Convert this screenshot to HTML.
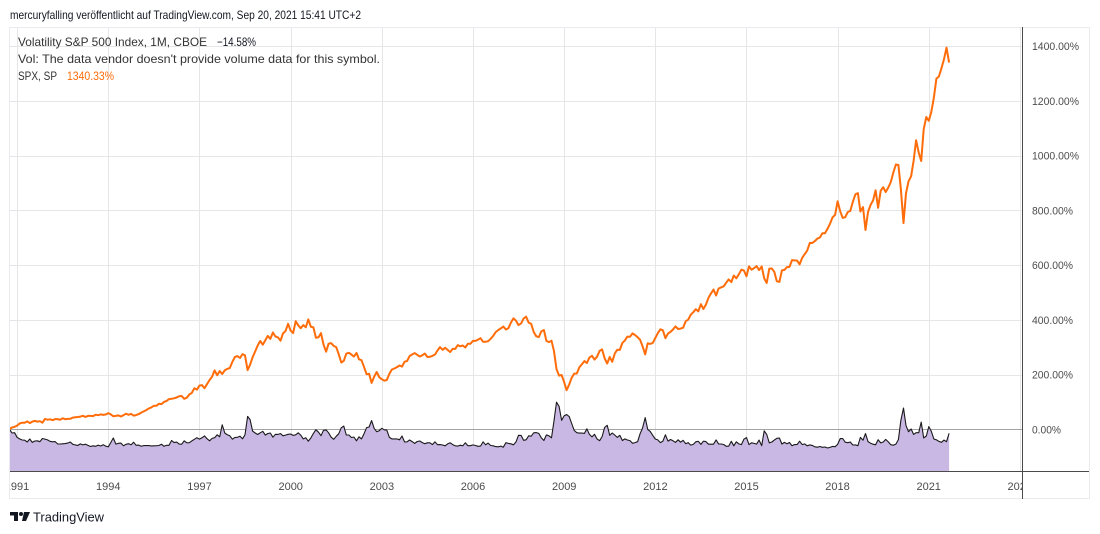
<!DOCTYPE html>
<html><head><meta charset="utf-8"><style>
html,body{margin:0;padding:0;background:#fff;}
body{width:1100px;height:534px;overflow:hidden;}
svg{display:block;}
text{font-family:"Liberation Sans",sans-serif;}
</style></head><body>
<svg id="c" width="1100" height="534" viewBox="0 0 1100 534" xmlns="http://www.w3.org/2000/svg">
<defs><clipPath id="pane"><rect x="10" y="28" width="1012" height="443"/></clipPath>
<clipPath id="taxis"><rect x="10" y="472" width="1012" height="26"/></clipPath></defs>
<text x="10" y="19" font-size="12" fill="#131722" textLength="351" lengthAdjust="spacingAndGlyphs">mercuryfalling veröffentlicht auf TradingView.com, Sep 20, 2021 15:41 UTC+2</text>
<rect x="9.5" y="27.5" width="1080" height="471" fill="none" stroke="#e9ebee" stroke-width="1"/>
<g id="grid" stroke="#e6e6e9" stroke-width="1"></g>
<line x1="10" y1="429.5" x2="1022" y2="429.5" stroke="#a3a3a3" stroke-width="1"/>
<g clip-path="url(#pane)">
<path id="vixfill" fill="#c9b8e3" stroke="none"/>
<path id="vixline" fill="none" stroke="#1a1a1a" stroke-width="1.1" stroke-linejoin="round"/>
<path id="spx" fill="none" stroke="#ff6d0a" stroke-width="2" stroke-linejoin="round"/>
</g>
<line x1="1022.5" y1="27" x2="1022.5" y2="499" stroke="#4a4a4a" stroke-width="1"/>
<line x1="10" y1="471.5" x2="1089" y2="471.5" stroke="#4a4a4a" stroke-width="1"/>
<g font-size="11" fill="#4c4c4c">
<text x="1032" y="50" textLength="47" lengthAdjust="spacingAndGlyphs">1400.00%</text>
<text x="1032" y="105" textLength="47" lengthAdjust="spacingAndGlyphs">1200.00%</text>
<text x="1032" y="159.5" textLength="47" lengthAdjust="spacingAndGlyphs">1000.00%</text>
<text x="1032" y="214.5" textLength="41" lengthAdjust="spacingAndGlyphs">800.00%</text>
<text x="1032" y="269" textLength="41" lengthAdjust="spacingAndGlyphs">600.00%</text>
<text x="1032" y="324" textLength="41" lengthAdjust="spacingAndGlyphs">400.00%</text>
<text x="1032" y="378.5" textLength="41" lengthAdjust="spacingAndGlyphs">200.00%</text>
<text x="1032" y="433.5" textLength="29" lengthAdjust="spacingAndGlyphs">0.00%</text>
</g>
<g font-size="11" fill="#4c4c4c" text-anchor="middle" clip-path="url(#taxis)">
<text x="17" y="490">1991</text><text x="108.3" y="490">1994</text><text x="199.5" y="490">1997</text>
<text x="290.7" y="490">2000</text><text x="381.9" y="490">2003</text><text x="473" y="490">2006</text>
<text x="564.2" y="490">2009</text><text x="655.4" y="490">2012</text><text x="746.5" y="490">2015</text>
<text x="837.5" y="490">2018</text><text x="928.7" y="490">2021</text><text x="1019.8" y="490">2024</text>
</g>
<g font-size="12" fill="#333">
<text x="18" y="46" textLength="189" lengthAdjust="spacingAndGlyphs">Volatility S&amp;P 500 Index, 1M, CBOE</text>
<text x="217" y="46" fill="#131722" textLength="39" lengthAdjust="spacingAndGlyphs">−14.58%</text>
<text x="18" y="63" textLength="362" lengthAdjust="spacingAndGlyphs">Vol: The data vendor doesn't provide volume data for this symbol.</text>
<text x="18" y="80" textLength="39" lengthAdjust="spacingAndGlyphs">SPX, SP</text>
<text x="67" y="80" fill="#ff6d0a" textLength="47" lengthAdjust="spacingAndGlyphs">1340.33%</text>
</g>
<g fill="#131722">
<rect x="10" y="512" width="8" height="3.5"/>
<rect x="14" y="512" width="4" height="9"/>
<circle cx="21" cy="514" r="2"/>
<polygon points="24,512 30,512 26,521 22,521"/>
</g>
<text x="33" y="521.5" font-size="13" fill="#131722" textLength="71" lengthAdjust="spacingAndGlyphs">TradingView</text>
</svg>
<script>
(function(){
var NS="http://www.w3.org/2000/svg";
var g=document.getElementById('grid');
function ln(x1,y1,x2,y2){var l=document.createElementNS(NS,'line');l.setAttribute('x1',x1);l.setAttribute('y1',y1);l.setAttribute('x2',x2);l.setAttribute('y2',y2);g.appendChild(l);}
for(var k=0;k<12;k++){var x=Math.round(17.1+k*91.17)+0.5;ln(x,28,x,471);}
for(var k=1;k<=7;k++){var y=Math.round(429.3-k*54.714)+0.5;ln(10,y,1022,y);}
var spx=[304.0,322.2,330.2,
343.9,367.1,375.2,375.3,389.8,371.2,387.8,395.4,387.9,392.5,375.2,417.1,
408.8,412.7,403.7,414.9,415.4,408.1,424.2,414.0,417.8,418.7,431.4,435.7,
438.8,443.4,451.7,440.2,450.2,451.0,448.1,463.6,458.9,467.8,461.8,466.5,
481.6,467.1,445.8,450.9,456.5,444.3,458.3,475.5,462.7,472.4,454.0,459.3,
470.4,487.4,500.7,514.7,533.4,544.8,562.1,561.9,584.4,581.5,605.4,615.9,
636.0,640.4,645.5,654.2,669.1,670.6,639.9,651.9,687.3,705.3,757.0,740.7,
786.2,791.0,757.1,801.3,848.3,885.1,954.3,899.5,947.3,914.6,955.4,970.4,
980.3,1049.3,1101.8,1111.8,1090.8,1133.8,1120.7,957.3,1017.0,1098.7,1163.6,1229.2,
1279.6,1238.3,1286.4,1335.2,1301.8,1372.7,1328.7,1320.4,1282.7,1362.9,1388.9,1469.3,
1394.5,1366.4,1498.6,1452.4,1420.6,1454.6,1430.8,1517.7,1436.5,1429.4,1315.2,1320.3,
1366.0,1239.9,1160.3,1249.5,1255.8,1224.4,1211.2,1133.6,1040.9,1059.8,1139.5,1148.1,
1130.2,1106.7,1147.4,1076.9,1067.1,989.8,911.6,916.1,815.3,885.8,936.3,879.8,
855.7,841.2,848.2,916.9,963.6,974.5,990.3,1008.0,996.0,1050.7,1058.2,1111.9,
1131.1,1144.9,1126.2,1107.3,1120.7,1140.8,1101.7,1104.2,1114.6,1130.2,1173.8,1211.9,
1181.3,1203.6,1180.6,1156.9,1191.5,1191.3,1234.2,1220.3,1228.8,1207.0,1249.5,1248.3,
1280.1,1280.7,1294.9,1310.6,1270.1,1270.2,1276.7,1303.8,1335.9,1377.9,1400.6,1418.3,
1438.2,1406.8,1420.9,1482.4,1530.6,1503.4,1455.3,1474.0,1526.8,1549.4,1481.1,1468.4,
1378.6,1330.6,1322.7,1385.6,1400.4,1280.0,1267.4,1282.8,1166.4,968.8,896.2,903.3,
825.9,735.1,797.9,872.8,919.1,919.3,987.5,1020.6,1057.1,1036.2,1095.6,1115.1,
1073.9,1104.5,1169.4,1186.7,1089.4,1030.7,1101.6,1049.3,1141.2,1183.3,1180.6,1257.6,
1286.1,1327.2,1325.8,1363.6,1345.2,1320.6,1292.3,1218.9,1131.4,1253.3,1247.0,1257.6,
1312.4,1365.7,1408.5,1397.9,1310.3,1362.2,1379.3,1406.6,1440.7,1412.2,1416.2,1426.2,
1498.1,1514.7,1569.2,1597.6,1630.7,1606.3,1685.7,1633.0,1681.6,1756.5,1805.8,1848.4,
1782.6,1859.5,1872.3,1883.9,1923.6,1960.2,1930.7,2003.4,1972.3,2018.1,2067.6,2058.9,
1995.0,2104.5,2067.9,2085.5,2107.4,2063.1,2103.8,1972.2,1920.0,2079.4,2080.4,2043.9,
1940.2,1932.2,2059.7,2065.3,2096.9,2098.9,2173.6,2170.9,2168.3,2126.2,2198.8,2238.8,
2278.9,2363.6,2362.7,2384.2,2411.8,2423.4,2470.3,2471.7,2519.4,2575.3,2647.6,2673.6,
2823.8,2713.8,2640.9,2648.1,2705.3,2718.4,2816.3,2901.5,2914.0,2711.7,2760.2,2506.9,
2704.1,2784.5,2834.4,2945.8,2752.1,2941.8,2980.4,2926.5,2976.7,3037.6,3141.0,3230.8,
3225.5,2954.2,2584.6,2912.4,3044.3,3100.3,3271.1,3500.3,3363.0,3270.0,3621.6,3756.1,
3714.2,3811.2,3972.9,4181.2,4204.1,4297.5,4395.3,4522.7,4357.7];
var vix=[30.1,26.0,26.4,
21.3,19.5,18.3,18.1,16.1,19.4,15.7,17.2,17.5,16.5,20.0,19.3,
18.4,16.9,16.4,16.6,14.0,13.9,14.2,14.4,14.9,16.1,13.6,12.9,
12.4,14.0,12.9,13.7,12.4,11.2,12.0,11.4,12.6,11.7,13.2,11.6,
10.8,15.6,20.5,13.8,14.7,14.9,12.0,13.6,14.3,13.0,15.9,12.5,
12.7,11.5,12.2,12.3,12.2,11.8,11.9,12.1,12.3,13.7,11.4,12.5,
12.5,17.8,15.5,16.0,13.8,13.7,17.5,15.3,15.4,17.3,19.1,20.9,
19.3,20.7,22.8,19.8,17.4,20.1,20.9,24.1,21.8,35.1,26.0,24.0,
23.0,19.2,21.2,21.3,22.5,19.7,24.1,44.3,40.8,28.1,26.0,24.4,
26.3,27.9,23.7,25.5,26.0,21.4,24.6,24.5,25.4,23.0,23.7,24.6,
24.9,23.4,24.1,26.2,23.7,19.5,20.7,17.0,20.6,25.6,29.7,26.9,
23.1,29.0,29.4,26.3,21.5,19.1,22.4,25.1,31.9,33.6,23.8,23.8,
21.1,21.6,17.4,21.9,19.5,25.4,32.0,32.6,39.7,31.1,27.5,28.6,
31.2,29.6,29.2,21.2,19.5,19.5,19.5,18.6,22.7,16.1,16.3,18.3,
16.6,14.6,16.7,17.2,15.5,14.3,15.3,15.3,13.3,16.3,13.2,13.3,
12.8,12.0,14.0,15.3,13.3,12.0,11.6,12.6,11.9,15.3,12.1,12.1,
12.95,12.3,11.4,11.6,16.4,13.1,14.95,12.3,11.98,11.1,10.9,11.6,
10.4,15.4,14.6,14.2,13.1,16.2,23.5,23.4,18.0,18.5,22.9,22.5,
26.2,26.5,25.6,20.8,17.8,23.95,22.9,20.7,39.4,59.9,55.3,40.0,
44.8,46.4,44.1,36.5,28.9,26.4,25.9,26.0,25.6,30.7,24.5,21.7,
24.6,19.5,17.6,22.05,32.1,34.5,23.5,26.05,23.7,21.2,23.5,17.75,
19.5,18.35,17.7,14.75,15.45,16.5,25.25,31.6,42.96,29.96,27.8,23.4,
19.4,18.4,15.5,17.15,24.1,17.1,18.9,17.5,15.7,18.6,15.9,18.0,
14.3,15.5,12.7,13.5,16.3,16.9,13.45,17.0,16.6,13.75,13.7,13.7,
18.4,14.0,13.9,13.4,11.4,11.6,16.95,12.0,16.3,14.0,13.3,19.2,
20.97,13.3,15.3,14.55,13.8,18.2,12.1,28.4,24.5,15.1,16.1,18.2,
20.2,20.55,13.95,15.7,14.2,15.6,11.9,13.4,13.3,17.06,13.3,14.0,
11.99,12.9,12.4,10.8,10.4,11.2,10.3,10.6,9.5,10.2,11.3,11.0,
13.5,19.85,19.97,15.9,15.4,16.1,12.8,12.9,12.1,21.2,18.1,25.4,
16.6,14.8,13.7,13.1,18.7,15.1,16.1,19.0,16.2,13.2,12.6,13.8,
18.8,40.1,53.5,34.2,27.5,30.4,24.5,26.4,26.4,38.0,20.6,22.75,
33.1,27.95,19.4,18.6,16.8,15.8,18.2,16.5,25.71];
function X(i){return 9.5+i*30.39/12;}
function Y(p){return 429.3-p*383/1400;}
var d='',sb=302.55;
for(var i=0;i<spx.length;i++){d+=(i?'L':'M')+X(i).toFixed(1)+','+Y((spx[i]/sb-1)*100).toFixed(1);}
document.getElementById('spx').setAttribute('d',d);
var vb=30.1,l='',f='M'+X(0).toFixed(1)+',471';
for(var i=0;i<vix.length;i++){var s=X(i).toFixed(1)+','+Y((vix[i]/vb-1)*100).toFixed(1);l+=(i?'L':'M')+s;f+='L'+s;}
f+='L'+X(vix.length-1).toFixed(1)+',471Z';
document.getElementById('vixline').setAttribute('d',l);
document.getElementById('vixfill').setAttribute('d',f);
})();
</script>
</body></html>
